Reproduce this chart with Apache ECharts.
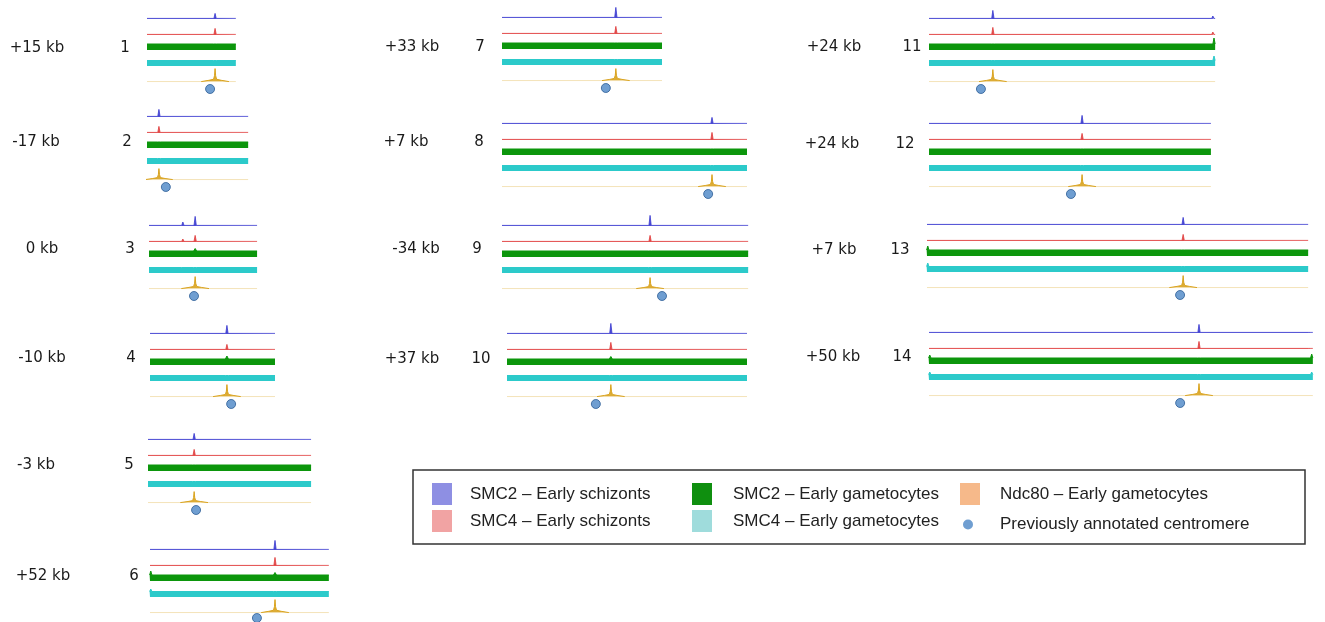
<!DOCTYPE html>
<html><head><meta charset="utf-8">
<script src="https://cdn.jsdelivr.net/npm/echarts@6/dist/echarts.min.js"></script>
<style>html,body{margin:0;padding:0;background:#fff}#c{width:1325px;height:622px}</style>
</head><body><div id="c"></div>
<script>
// ---------------- DATA ----------------
const chromosomes = ['1','2','3','4','5','6','7','8','9','10','11','12','13','14'];
const offsetLabels = ['+15 kb','-17 kb','0 kb','-10 kb','-3 kb','+52 kb','+33 kb','+7 kb','-34 kb','+37 kb','+24 kb','+24 kb','+7 kb','+50 kb'];
const chromLengthKb = [231,263,281,325,424,465,416,637,640,624,744,733,991,998];
const cenPeakKb = [177,31,120,200,120,325,296,546,385,270,166,398,666,702];
const annotatedCenKb = [164,49,117,211,125,278,270,536,416,231,135,369,658,653];
const trackNames = ['SMC2 – Early schizonts','SMC4 – Early schizonts','SMC2 – Early gametocytes','SMC4 – Early gametocytes','Ndc80 – Early gametocytes'];
const dotName = 'Previously annotated centromere';
const trackBaseline = [0.6, 0.6, 6, 5.5, 0.4];
const smc2SchizPeak = [5,7,9,8,6,9,10,6,10,10,8,8,7,8];
const smc4SchizPeak = [6,6,6,5,6,8,7,7,6,7,7,6,6,7];
const smc2GamPeak   = [8,8,8.5,9,8,8.5,8,8,8,8.5,8,8,8,8];
const smc4GamPeak   = [7,6.5,7.5,6.5,7,7,6.5,7,6.5,6.5,6.5,6.5,6.5,6.5];
const ndc80Peak     = [13,11,12,12,11,13,12,12,11,12,12,12,12,12];
// secondary spikes: [chromosome index, track index, position kb, height]
const extraSpikes = [
  [2,0,88,4],[2,1,88,3],[2,2,88,8],[2,3,88,7],
  [5,2,2,10],[5,3,2,8],
  [10,0,738,3],[10,1,738,3],[10,2,741,12],[10,3,741,10],
  [12,2,2,10],[12,3,2,9],
  [13,2,2,9],[13,3,2,8],[13,2,995,10],[13,3,995,8],[13,0,990,2.5],[13,1,990,2.5]
];
// Ndc80 peak profile: offsets from centromere (kb) and fraction of peak height
const ndcShapeOffsetKb = [-36,-16,-4,-1.5,0,1.5,4,16,36];
const ndcShapeFrac     = [0,0.1,0.18,0.45,1,0.45,0.18,0.1,0];

// ---------------- LAYOUT / STYLE ----------------
const KB_PER_PX = 2.6;
const layout = {
  blockLeft: [147,147,149,150,148,150,502,502,502,507,929,929,927,929],
  blockTop:  [18,116,225,333,439,549,17,123,225,333,18,123,224,332],
  labelX:    [37,36,42,42,36,43,412,406,416,412,834,832,834,833],
  numX:      [125,127,130,131,129,134,480,479,477,481,912,905,900,902],
  labelY:    [48,142,249,358,465,576,47,142,249,359,47,144,250,357],
  trackOffset: [0,16,31,47,63], dotOffset: 71, trackH: 16
};
const trackColors = ['#3a3ad0','#e03c3c','#0c960c','#2ccaca','#d9a31f'];
const legendColors = ['#8e8fe3','#f1a3a3','#0f8f0f','#9fdcdc','#f6b98a'];
const peakArrays = [smc2SchizPeak, smc4SchizPeak, smc2GamPeak, smc4GamPeak];

const grids = [], xAxes = [], yAxes = [], series = [];
function addGrid(c, top, height, ymin, ymax) {
  const idx = grids.length;
  grids.push({left: layout.blockLeft[c], top: top, width: chromLengthKb[c] / KB_PER_PX, height: height});
  xAxes.push({type:'value', gridIndex: idx, min: 0, max: chromLengthKb[c], show: false});
  yAxes.push({type:'value', gridIndex: idx, min: ymin, max: ymax, show: false});
  return idx;
}
function spike(x, h, base, w) { return [[x - w, base],[x, h],[x + w, base]]; }

chromosomes.forEach((chr, c) => {
  const len = chromLengthKb[c];
  for (let t = 0; t < 5; t++) {
    const bottom = layout.blockTop[c] + layout.trackOffset[t] + 1;
    const gi = addGrid(c, bottom - layout.trackH, layout.trackH, 0, layout.trackH);
    const base = trackBaseline[t];
    if (t < 4) {
      let pts = [[0, base],[len, base]];
      const h = t < 2 ? base + peakArrays[t][c] : peakArrays[t][c];
      pts = pts.concat(spike(cenPeakKb[c], h, base, t < 2 ? 3 : 4));
      extraSpikes.forEach(s => { if (s[0] === c && s[1] === t) pts = pts.concat(spike(s[2], s[3], base, 3)); });
      pts.sort((a, b) => a[0] - b[0]);
      const band = t >= 2;
      series.push({
        name: trackNames[t], type: 'line', xAxisIndex: gi, yAxisIndex: gi, data: pts,
        symbol: 'none', silent: true, animation: false, clip: true,
        lineStyle: {color: trackColors[t], width: 1, opacity: band ? 1 : 0.8},
        itemStyle: {color: trackColors[t]},
        areaStyle: {color: trackColors[t], opacity: band ? 1 : 0.9, origin: 'start'}
      });
    } else {
      series.push({
        name: trackNames[t] + ' baseline', type: 'line', xAxisIndex: gi, yAxisIndex: gi,
        data: [[0, base],[len, base]], symbol: 'none', silent: true, animation: false,
        lineStyle: {color: '#f3e2b6', width: 1}
      });
      const pts = ndcShapeOffsetKb.map((o, k) => [cenPeakKb[c] + o, ndc80Peak[c] * ndcShapeFrac[k] + base]);
      series.push({
        name: trackNames[t], type: 'line', xAxisIndex: gi, yAxisIndex: gi, data: pts,
        symbol: 'none', silent: true, animation: false, clip: true,
        lineStyle: {color: trackColors[t], width: 1},
        itemStyle: {color: trackColors[t]},
        areaStyle: {color: trackColors[t], opacity: 0.9, origin: 'start'}
      });
    }
  }
  const dy = layout.blockTop[c] + layout.dotOffset;
  const gd = addGrid(c, dy - 6, 12, -1, 1);
  series.push({
    name: dotName, type: 'scatter', xAxisIndex: gd, yAxisIndex: gd,
    data: [[annotatedCenKb[c], 0]], symbol: 'circle', symbolSize: 9, silent: true, animation: false,
    itemStyle: {color: '#4b86c5', borderColor: '#2d5e96', borderWidth: 1}
  });
});

const graphics = [];
chromosomes.forEach((chr, c) => {
  graphics.push({type:'text', silent:true, style:{text: offsetLabels[c], x: layout.labelX[c], y: layout.labelY[c], align:'center', verticalAlign:'middle', font:'15px "DejaVu Sans"', fill:'#1a1a1a'}});
  graphics.push({type:'text', silent:true, style:{text: chr, x: layout.numX[c], y: layout.labelY[c], align:'center', verticalAlign:'middle', font:'15px "DejaVu Sans"', fill:'#1a1a1a'}});
});
graphics.push({type:'rect', silent:true, shape:{x:413, y:470, width:892, height:74}, style:{fill:'none', stroke:'#333', lineWidth:1.5}});

function legendItem(name, color, icon, left, top, w, h, pad) {
  return {
    show: true, selectedMode: false, left: left, top: top, orient: 'horizontal', padding: 0,
    itemWidth: w, itemHeight: h,
    data: [{name: name, icon: icon, itemStyle: {color: color, borderWidth: 0}}],
    textStyle: {fontFamily: 'Liberation Sans', fontSize: 17, color: '#222', padding: [0,0,0,pad]}
  };
}
const legends = [
  legendItem(trackNames[0], legendColors[0], 'rect', 432, 483, 20, 22, 13),
  legendItem(trackNames[1], legendColors[1], 'rect', 432, 510, 20, 22, 13),
  legendItem(trackNames[2], legendColors[2], 'rect', 692, 483, 20, 22, 16),
  legendItem(trackNames[3], legendColors[3], 'rect', 692, 510, 20, 22, 16),
  legendItem(trackNames[4], legendColors[4], 'rect', 960, 483, 20, 22, 15),
  legendItem(dotName, '#4b86c5', 'circle', 963, 516, 10, 10, 22)
];

const chart = echarts.init(document.getElementById('c'), null, {renderer: 'canvas'});
chart.setOption({
  backgroundColor: '#fff', animation: false,
  grid: grids, xAxis: xAxes, yAxis: yAxes, series: series,
  legend: legends, graphic: graphics
});
</script></body></html>
